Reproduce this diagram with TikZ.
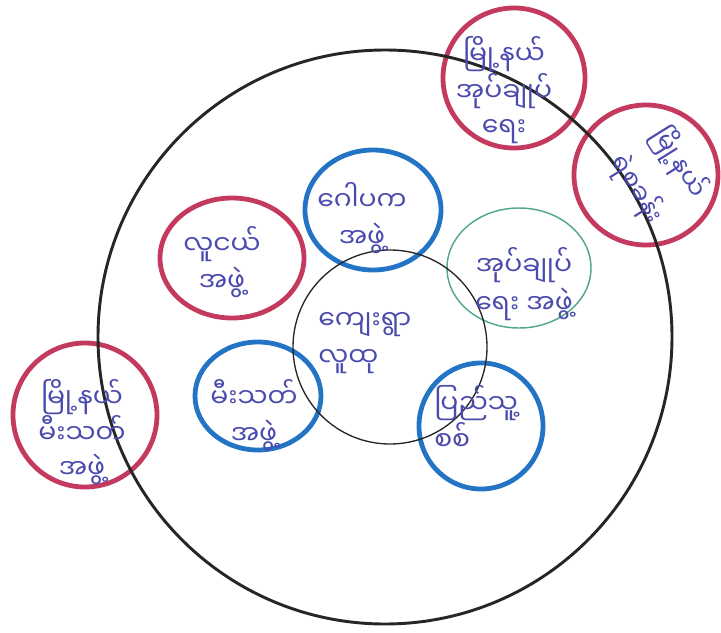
\documentclass[tikz,border=0pt]{standalone}
\usepackage{fontspec}
\newfontfamily\myanfont[Script=Myanmar]{Noto Sans Myanmar UI}
\usetikzlibrary{positioning}

\definecolor{ringblue}{HTML}{2474C6}
\definecolor{ringred}{HTML}{C43A5E}
\definecolor{ringgreen}{HTML}{52A88E}
\definecolor{ringblack}{HTML}{262626}
\definecolor{inkblue}{HTML}{4B4BAE}

\tikzset{
  bluering/.style={line width=3.6pt, draw=ringblue},
  redring/.style={line width=3.6pt, draw=ringred},
  greenring/.style={line width=1.1pt, draw=ringgreen},
  innerring/.style={line width=1pt, draw=ringblack},
  outerring/.style={line width=2.2pt, draw=ringblack},
  ink/.style={text=inkblue, align=center, inner sep=0pt,
    font=\myanfont\fontsize{20}{28}\selectfont},
}

\begin{document}
\begin{tikzpicture}[x=0.75pt, y=-0.75pt]
  \useasboundingbox (0,0) rectangle (721,632);

  % --- Township groups (outside the big circle) ---
  \draw[redring] (514,78) ellipse [x radius=71, y radius=70];
  \draw[redring] (646,175) ellipse [x radius=72, y radius=70];
  \draw[redring] (85,415) ellipse [x radius=72, y radius=72];

  % --- Village groups ---
  \draw[bluering] (373,210) ellipse [x radius=68, y radius=60];
  \draw[redring] (232,258) ellipse [x radius=72, y radius=60];
  \draw[greenring] (519,268) ellipse [x radius=72, y radius=60];
  \draw[bluering] (258,396) ellipse [x radius=63, y radius=54];
  \draw[bluering] (481,426) ellipse [x radius=62, y radius=63];

  % --- Middle circle and big circle ---
  \draw[innerring] (390,347) circle [radius=97];
  \draw[outerring] (385,337) circle [radius=287];

  % --- Labels ---
  \node[ink, align=left, anchor=west] (village) at (318,343) {ကျေးရွာ\\လူထု};
  \node[ink] (trustees) at (362,218) {ဂေါပက\\အဖွဲ့};
  \node[ink] (youth) at (222,262) {လူငယ်\\အဖွဲ့};
  \node[ink] (admin) at (524,284) {အုပ်ချုပ်\\ရေး အဖွဲ့};
  \node[ink] (fire) at (254,415) {မီးသတ်\\အဖွဲ့};
  \node[ink, align=left, anchor=west] (militia) at (434,418) {ပြည်သူ့\\စစ်};
  \node[ink, font=\myanfont\fontsize{20}{26}\selectfont] (tsfire) at (82,432) {မြို့နယ်\\မီးသတ်\\အဖွဲ့};
  \node[ink, font=\myanfont\fontsize{20}{26}\selectfont] (tsadmin) at (504,90) {မြို့နယ်\\အုပ်ချုပ်\\ရေး};
  \node[ink, rotate=-58, font=\myanfont\fontsize{19}{28}\selectfont] (tspolice) at (658,176) {မြို့နယ်\\[9pt]ရဲစခန်း};
\end{tikzpicture}
\end{document}
